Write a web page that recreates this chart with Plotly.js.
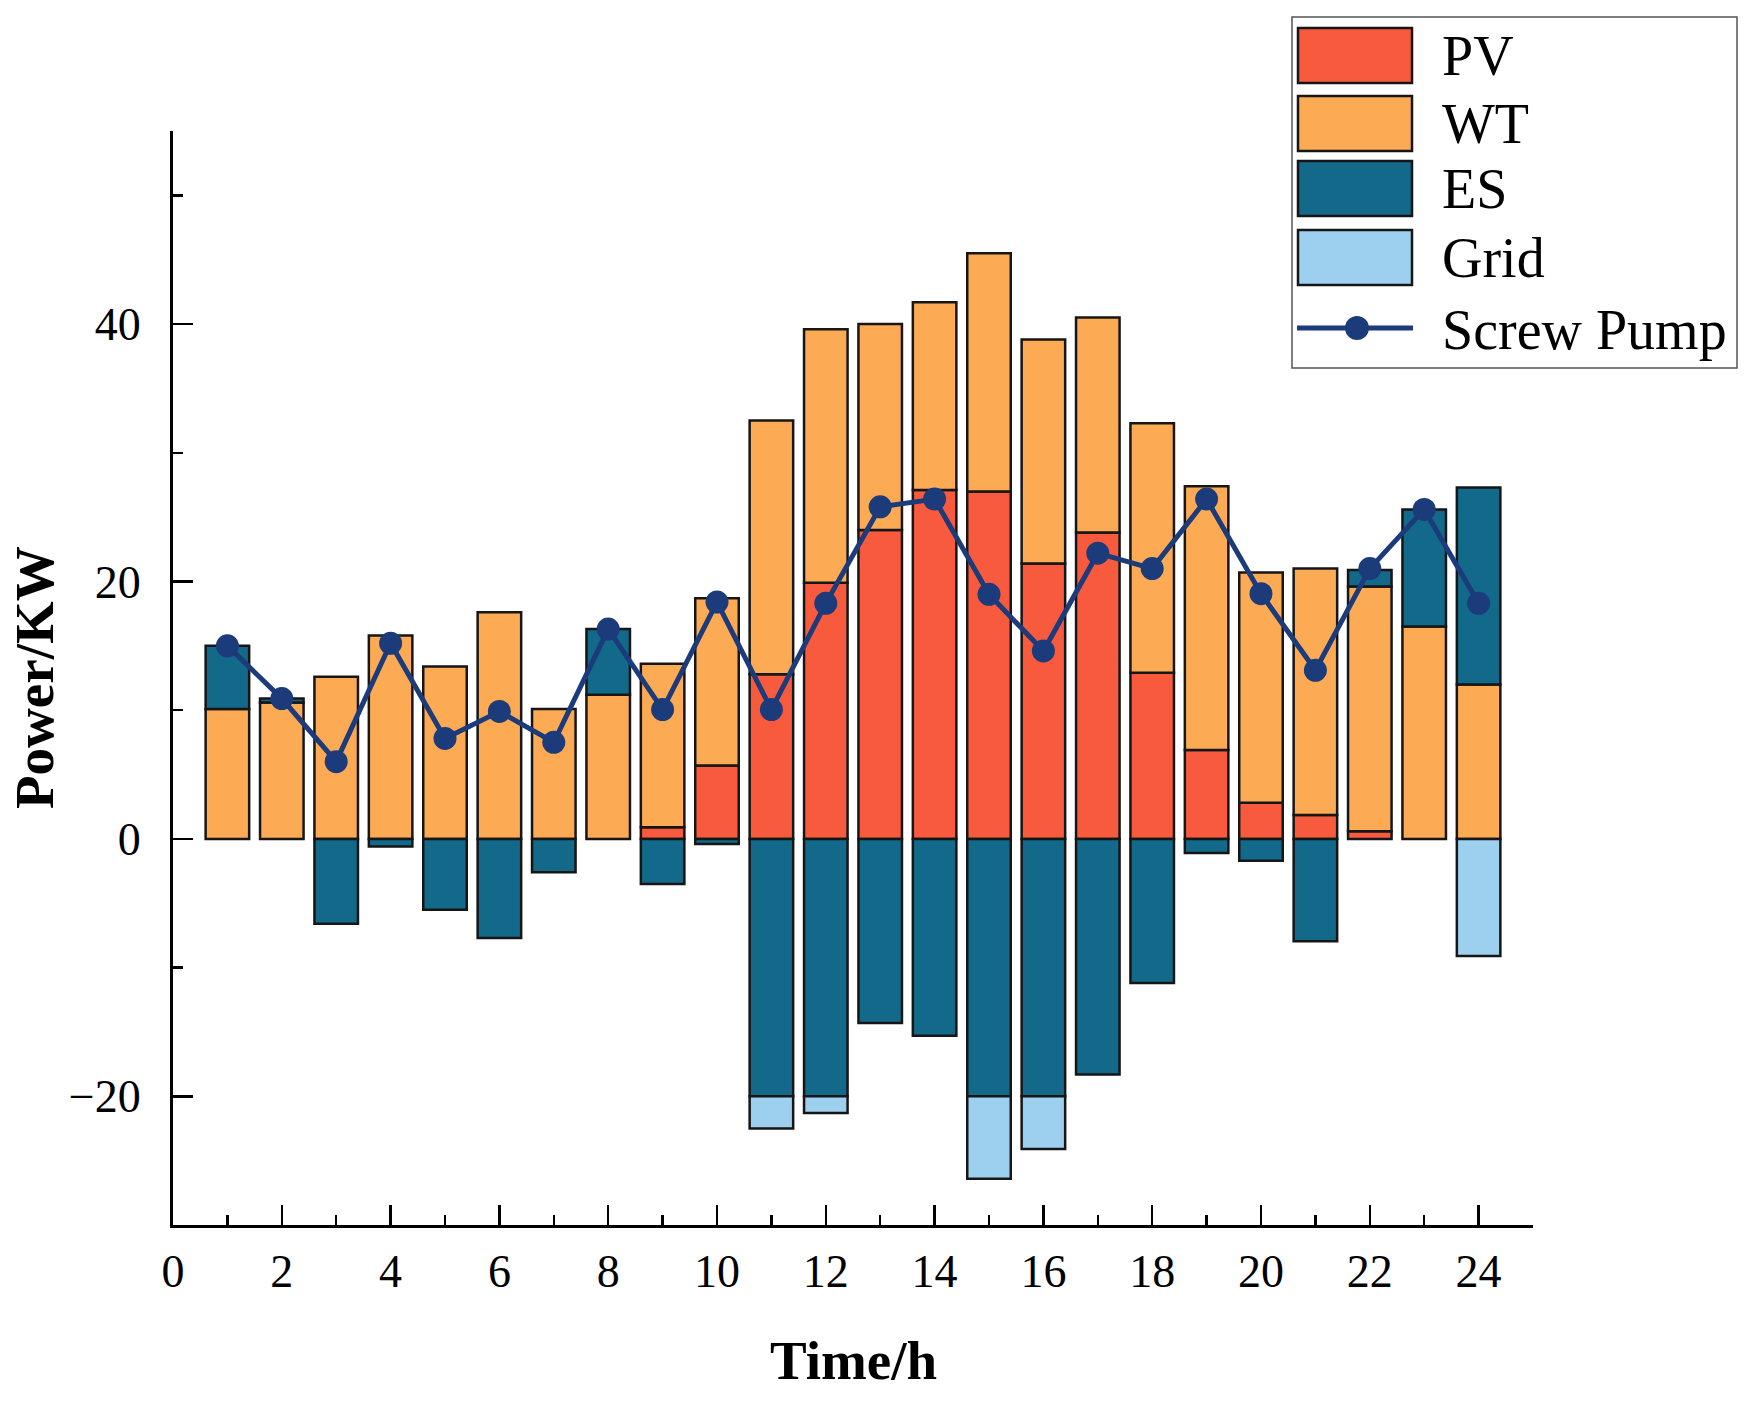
<!DOCTYPE html>
<html>
<head>
<meta charset="utf-8">
<script src="https://cdn.plot.ly/plotly-3.0.1.min.js"></script>
<style>
  html, body { margin: 0; padding: 0; background: #fff; }
  #chart { width: 1762px; height: 1402px; }
</style>
</head>
<body>
<div id="chart"></div>
<script>
// hours of the day
const hours = [1,2,3,4,5,6,7,8,9,10,11,12,13,14,15,16,17,18,19,20,21,22,23,24];

// power of each source, KW (negative = charging / selling)
const pv   = [0,0,0,0,0,0,0,0,0.9,5.7,12.8,19.9,24.0,27.1,27.0,21.4,23.8,12.9,6.9,2.8,1.85,0.6,0,0];
const wt   = [10.1,10.6,12.6,15.8,13.4,17.6,10.1,11.2,12.7,13.0,19.7,19.7,16.0,14.6,18.5,17.4,16.7,19.4,20.5,17.9,19.15,19.0,16.5,12.0];
const es   = [4.9,0.3,-6.6,-0.6,-5.5,-7.7,-2.6,5.1,-3.5,-0.4,-20,-20,-14.3,-15.3,-20,-20,-18.3,-11.2,-1.1,-1.7,-7.95,1.3,9.1,15.3];
const grid = [0,0,0,0,0,0,0,0,0,0,-2.5,-1.3,0,0,-6.4,-4.1,0,0,0,0,0,0,0,-9.1];
const pump = [15.0,10.9,6.0,15.2,7.8,9.9,7.5,16.3,10.05,18.4,10.05,18.3,25.8,26.4,19.0,14.6,22.2,21.0,26.4,19.05,13.1,21.0,25.6,18.3];

const barNames  = ['PV', 'WT', 'ES', 'Grid'];
const barSeries = [pv, wt, es, grid];
const barColors = ['#F85A3E', '#FDAA55', '#12698A', '#9DCFEE'];
const pumpName  = 'Screw Pump';
const pumpColor = '#1B3B7B';

const serif = '"Liberation Serif", "Times New Roman", Times, serif';

let data = barSeries.map((s, i) => ({
  type: 'bar',
  x: hours,
  y: s.map(v => v === 0 ? null : v),
  name: barNames[i],
  width: 0.8,
  marker: { color: barColors[i], line: { color: '#161616', width: 2.5 } },
  showlegend: false
}));

data.push({
  type: 'scatter',
  mode: 'lines+markers',
  x: hours,
  y: pump,
  name: pumpName,
  line: { color: pumpColor, width: 5 },
  marker: { color: pumpColor, size: 23 },
  showlegend: false
});

// hand made legend, big swatches like the original figure
const L = 173, W = 1360, B = 1225, H = 1094;
const px = v => (v - L) / W;
const py = v => (B - v) / H;

let shapes = [{
  type: 'rect', xref: 'paper', yref: 'paper',
  x0: px(1292), x1: px(1737), y0: py(368), y1: py(17),
  line: { color: '#555', width: 1.5 }, fillcolor: 'rgba(0,0,0,0)'
}];
let annotations = [];
const rowTop = [28, 96, 161, 230];
barNames.forEach((n, i) => {
  shapes.push({
    type: 'rect', xref: 'paper', yref: 'paper',
    x0: px(1298), x1: px(1412), y0: py(rowTop[i] + 55), y1: py(rowTop[i]),
    fillcolor: barColors[i], line: { color: '#161616', width: 2.5 }
  });
  annotations.push({
    xref: 'paper', yref: 'paper', x: px(1440), y: py(rowTop[i] + 28),
    xanchor: 'left', yanchor: 'middle', showarrow: false, text: n,
    font: { family: serif, size: 56, color: '#000' }
  });
});
shapes.push({
  type: 'line', xref: 'paper', yref: 'paper',
  x0: px(1297), x1: px(1413), y0: py(328), y1: py(328),
  line: { color: pumpColor, width: 5 }
});
shapes.push({
  type: 'circle', xref: 'paper', yref: 'paper',
  x0: px(1345), x1: px(1369), y0: py(340), y1: py(316),
  fillcolor: pumpColor, line: { color: pumpColor, width: 0 }
});
annotations.push({
  xref: 'paper', yref: 'paper', x: px(1440), y: py(330),
  xanchor: 'left', yanchor: 'middle', showarrow: false, text: pumpName,
  font: { family: serif, size: 56, color: '#000' }
});

// axis titles
annotations.push({
  xref: 'paper', yref: 'paper', x: 0.5, y: py(1360),
  xanchor: 'center', yanchor: 'middle', showarrow: false,
  text: '<b>Time/h</b>', font: { family: serif, size: 55, color: '#000' }
});
annotations.push({
  xref: 'paper', yref: 'paper', x: px(34), y: 0.5, textangle: -90,
  xanchor: 'center', yanchor: 'middle', showarrow: false,
  text: '<b>Power/KW</b>', font: { family: serif, size: 55, color: '#000' }
});

let layout = {
  width: 1762,
  height: 1402,
  margin: { l: 173, r: 229, t: 131, b: 177 },
  paper_bgcolor: '#fff',
  plot_bgcolor: '#fff',
  barmode: 'relative',
  showlegend: false,
  font: { family: serif, size: 46, color: '#000' },
  xaxis: {
    range: [0, 25],
    tick0: 0, dtick: 2,
    ticks: 'inside', ticklen: 20, tickwidth: 2.5, tickcolor: '#000',
    ticklabelstandoff: 4,
    minor: { dtick: 1, ticks: 'inside', ticklen: 10, tickwidth: 2.5, tickcolor: '#000' },
    showline: true, linecolor: '#000', linewidth: 3,
    showgrid: false, zeroline: false,
    tickfont: { family: serif, size: 46, color: '#000' }
  },
  yaxis: {
    range: [-30, 55],
    tick0: 0, dtick: 20,
    ticks: 'inside', ticklen: 20, tickwidth: 2.5, tickcolor: '#000',
    ticklabelstandoff: 20,
    minor: { dtick: 10, ticks: 'inside', ticklen: 10, tickwidth: 2.5, tickcolor: '#000' },
    showline: true, linecolor: '#000', linewidth: 3,
    showgrid: false, zeroline: false,
    tickfont: { family: serif, size: 46, color: '#000' }
  },
  shapes: shapes,
  annotations: annotations
};

Plotly.newPlot('chart', data, layout, { displayModeBar: false, staticPlot: true });
</script>
</body>
</html>
